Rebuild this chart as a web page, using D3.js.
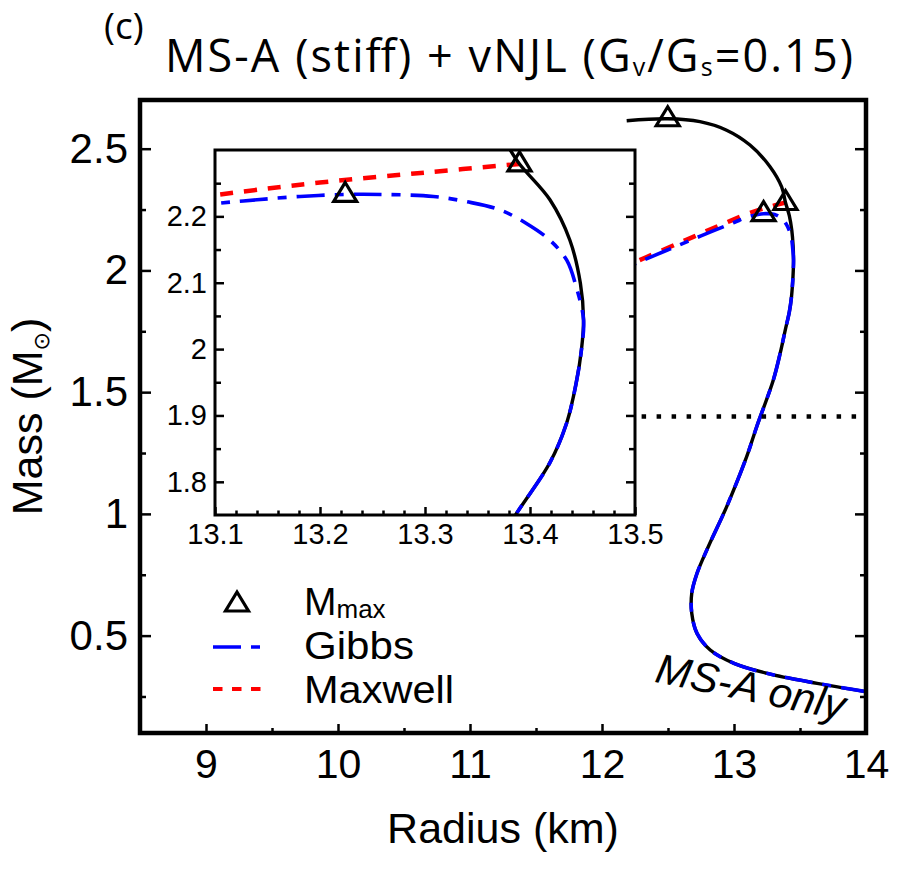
<!DOCTYPE html>
<html><head><meta charset="utf-8">
<script src="https://cdn.jsdelivr.net/npm/d3@7/dist/d3.min.js"></script>
<style>body{margin:0;background:#fff} svg{display:block}</style>
</head><body>
<svg id="c" width="900" height="872"></svg>
<script>
// ---- data ----
// hadronic-only (MS-A) mass-radius sequence, low to high central density
const hadR = [14.02, 13.63, 13.25, 13.0, 12.82, 12.72, 12.68, 12.68, 12.72, 12.805, 12.944, 13.096, 13.172, 13.298, 13.35, 13.387, 13.419, 13.435, 13.444, 13.449, 13.451, 13.448, 13.438, 13.419, 13.39, 13.361, 13.273, 13.121, 12.944, 12.742, 12.498, 12.187];
const hadM = [0.268, 0.304, 0.345, 0.386, 0.441, 0.509, 0.592, 0.674, 0.756, 0.865, 1.029, 1.235, 1.358, 1.55, 1.66, 1.752, 1.829, 1.889, 1.949, 1.999, 2.044, 2.099, 2.164, 2.225, 2.279, 2.343, 2.426, 2.515, 2.576, 2.611, 2.623, 2.615];
// Gibbs hybrid branch (from onset on hadronic curve)
const gibR = [13.451, 13.444, 13.435, 13.419, 13.397, 13.371, 13.34, 13.308, 13.26, 13.224, 13.181, 13.14, 13.1, 13.0, 12.75, 12.5, 12.25, 12.0];
const gibM = [2.044, 2.094, 2.134, 2.164, 2.189, 2.21, 2.222, 2.23, 2.233, 2.233, 2.23, 2.225, 2.219, 2.197, 2.142, 2.085, 2.027, 1.968];
// Maxwell hybrid branch
const maxR = [13.39, 13.3, 13.2, 13.1, 12.9, 12.7, 12.5, 12.25, 12.0];
const maxM = [2.279, 2.266, 2.251, 2.232, 2.187, 2.14, 2.093, 2.034, 1.975];
// maximum-mass markers: MS-A only, Maxwell, Gibbs
const mmaxR = [12.498, 13.39, 13.224];
const mmaxM = [2.623, 2.279, 2.233];
// canonical 1.4 Msun reference line (visible radius span)
const refMass = 1.4;
const refR = [12.3, 14];
// ticks
const xMajor = [9, 10, 11, 12, 13, 14];
const xMinor = [9.5, 10.5, 11.5, 12.5, 13.5];
const yMajor = [0.5, 1, 1.5, 2, 2.5];
const yMinor = [0.25, 0.75, 1.25, 1.75, 2.25];
const ixMajor = [13.1, 13.2, 13.3, 13.4, 13.5];
const ixMinor = [13.12, 13.14, 13.16, 13.18, 13.22, 13.24, 13.26, 13.28, 13.32, 13.34, 13.36, 13.38, 13.42, 13.44, 13.46, 13.48];
const iyMajor = [1.8, 1.9, 2, 2.1, 2.2];
const iyMinor = [1.85, 1.95, 2.05, 2.15, 2.25];

// ---- build series ----
const zip = (a, b) => a.map((v, i) => [v, b[i]]);
const had = zip(hadR, hadM);
const onsetIdx = hadM.indexOf(gibM[0]);
const gibbs = had.slice(0, onsetIdx).concat(zip(gibR, gibM));
const maxwell = zip(maxR, maxM);
const mmax = zip(mmaxR, mmaxM);

const FONT = "'Liberation Sans', Arial, Helvetica, sans-serif";
const svg = d3.select("#c");
const P = {l: 140, r: 866, t: 100, b: 733};
const I = {l: 215, r: 635, t: 150, b: 515};

const x = d3.scaleLinear().domain([8.5, 14]).range([P.l, P.r]);
const y = d3.scaleLinear().domain([0.1, 2.7]).range([P.b, P.t]);
const ix = d3.scaleLinear().domain([13.1, 13.5]).range([I.l, I.r]);
const iy = d3.scaleLinear().domain([1.75, 2.3]).range([I.b, I.t]);

const defs = svg.append("defs");
defs.append("clipPath").attr("id", "clipMain").append("rect")
  .attr("x", P.l).attr("y", P.t).attr("width", P.r - P.l).attr("height", P.b - P.t);
defs.append("clipPath").attr("id", "clipInset").append("rect")
  .attr("x", I.l).attr("y", I.t).attr("width", I.r - I.l).attr("height", I.b - I.t);

const tri = "M0,-12L11.5,7L-11.5,7Z";

function drawCurves(g, sx, sy, showAllMarkers) {
  const line = d3.line().x(d => sx(d[0])).y(d => sy(d[1])).curve(d3.curveCatmullRom.alpha(0.5));
  g.append("path").attr("d", line(maxwell)).attr("fill", "none")
    .attr("stroke", "#ff0000").attr("stroke-width", 4.5).attr("stroke-dasharray", "13,11");
  g.append("path").attr("d", line(had)).attr("fill", "none")
    .attr("stroke", "#000").attr("stroke-width", 3.4);
  g.append("path").attr("d", line(gibbs)).attr("fill", "none")
    .attr("stroke", "#0000ff").attr("stroke-width", 3.6).attr("stroke-dasharray", "28,10,9,10");
  g.selectAll("path.tri").data(showAllMarkers ? mmax : mmax.slice(1)).join("path")
    .attr("class", "tri").attr("d", tri)
    .attr("transform", d => `translate(${sx(d[0])},${sy(d[1])})`)
    .attr("fill", "none").attr("stroke", "#000").attr("stroke-width", 3.2);
}

// ---- main panel curves ----
const gMain = svg.append("g").attr("clip-path", "url(#clipMain)");
drawCurves(gMain, x, y, true);
gMain.append("line")
  .attr("x1", x(refR[0])).attr("x2", x(refR[1])).attr("y1", y(refMass)).attr("y2", y(refMass))
  .attr("stroke", "#000").attr("stroke-width", 4.5).attr("stroke-dasharray", "4.5,10.5");

// ---- axes helper ----
function ticks(g, axisFn, scale, vals, len, tx, ty) {
  const a = axisFn(scale).tickValues(vals).tickSizeInner(-len).tickSizeOuter(0).tickFormat("");
  const gg = g.append("g").attr("transform", `translate(${tx},${ty})`).call(a);
  gg.select(".domain").remove();
  gg.selectAll(".tick line").attr("stroke", "#000").attr("stroke-width", 2.5);
  return gg;
}
function labels(g, axisFn, scale, vals, pad, tx, ty, size) {
  const a = axisFn(scale).tickValues(vals).tickSize(0).tickPadding(pad).tickFormat(d => String(d));
  const gg = g.append("g").attr("transform", `translate(${tx},${ty})`).call(a);
  gg.select(".domain").remove();
  gg.selectAll(".tick line").remove();
  gg.selectAll("text").attr("font-family", FONT).attr("font-size", size).attr("fill", "#000");
  return gg;
}

const axG = svg.append("g");
ticks(axG, d3.axisBottom, x, xMajor, 9, 0, P.b);
ticks(axG, d3.axisBottom, x, xMinor, 5, 0, P.b);
ticks(axG, d3.axisLeft, y, yMajor, 11, P.l, 0);
ticks(axG, d3.axisLeft, y, yMinor, 6, P.l, 0);
ticks(axG, d3.axisRight, y, yMajor, 11, P.r, 0);
ticks(axG, d3.axisRight, y, yMinor, 6, P.r, 0);
labels(axG, d3.axisBottom, x, xMajor, 16, 0, P.b, 41);
labels(axG, d3.axisLeft, y, yMajor, 12, P.l, 0, 42);
svg.append("rect").attr("x", P.l).attr("y", P.t).attr("width", P.r - P.l).attr("height", P.b - P.t)
  .attr("fill", "none").attr("stroke", "#000").attr("stroke-width", 4.5);

// ---- inset ----
svg.append("rect").attr("x", I.l).attr("y", I.t).attr("width", I.r - I.l).attr("height", I.b - I.t)
  .attr("fill", "#fff");
const gIn = svg.append("g").attr("clip-path", "url(#clipInset)");
drawCurves(gIn, ix, iy, false);
const inAx = svg.append("g");
ticks(inAx, d3.axisBottom, ix, ixMajor, 8, 0, I.b);
ticks(inAx, d3.axisBottom, ix, ixMinor, 4.5, 0, I.b);
ticks(inAx, d3.axisLeft, iy, iyMajor, 9, I.l, 0);
ticks(inAx, d3.axisLeft, iy, iyMinor, 6, I.l, 0);
ticks(inAx, d3.axisRight, iy, iyMajor, 9, I.r, 0);
ticks(inAx, d3.axisRight, iy, iyMinor, 6, I.r, 0);
labels(inAx, d3.axisBottom, ix, ixMajor, 8, 0, I.b, 29);
labels(inAx, d3.axisLeft, iy, iyMajor, 8, I.l, 0, 29);
svg.append("rect").attr("x", I.l).attr("y", I.t).attr("width", I.r - I.l).attr("height", I.b - I.t)
  .attr("fill", "none").attr("stroke", "#000").attr("stroke-width", 3);

// ---- legend ----
const lg = svg.append("g").attr("font-family", FONT).attr("font-size", 39);
lg.append("path").attr("d", tri).attr("transform", "translate(237,604)")
  .attr("fill", "none").attr("stroke", "#000").attr("stroke-width", 3.2);
lg.append("line").attr("x1", 213).attr("x2", 261).attr("y1", 647).attr("y2", 647)
  .attr("stroke", "#0000ff").attr("stroke-width", 3.6).attr("stroke-dasharray", "28,10,9,10");
lg.append("line").attr("x1", 213).attr("x2", 261).attr("y1", 689).attr("y2", 689)
  .attr("stroke", "#ff0000").attr("stroke-width", 4).attr("stroke-dasharray", "9.5,9.5");
const t1 = lg.append("text").attr("x", 304).attr("y", 615);
t1.append("tspan").text("M");
t1.append("tspan").attr("font-size", 26).attr("dy", 3).text("max");
lg.append("text").attr("x", 304).attr("y", 659).attr("textLength", 110).attr("lengthAdjust", "spacingAndGlyphs").text("Gibbs");
lg.append("text").attr("x", 304).attr("y", 703).attr("textLength", 150).attr("lengthAdjust", "spacingAndGlyphs").text("Maxwell");

// ---- texts ----
svg.append("text").attr("transform", "translate(748,701) rotate(11.5)")
  .attr("text-anchor", "middle").attr("font-family", FONT).attr("font-style", "italic")
  .attr("font-size", 42).text("MS-A only");

svg.append("text").attr("x", (P.l + P.r) / 2).attr("y", 843).attr("text-anchor", "middle")
  .attr("font-family", FONT).attr("font-size", 43).text("Radius (km)");

const yl = svg.append("text").attr("transform", `translate(42,${(P.t + P.b) / 2}) rotate(-90)`)
  .attr("text-anchor", "middle").attr("font-family", FONT).attr("font-size", 43);
yl.append("tspan").text("Mass (M");
yl.append("tspan").attr("font-size", 22).attr("dy", 7).attr("font-family", "'DejaVu Sans', sans-serif").text("\u2299");
yl.append("tspan").attr("dy", -7).text(")");

const TF = "'Open Sans', 'Noto Sans', sans-serif";
svg.append("text").attr("x", 104).attr("y", 39).attr("font-family", TF).attr("font-size", 37).text("(c)");
const tt = svg.append("text").attr("x", 165).attr("y", 72).attr("font-family", TF).attr("font-size", 45)
  .attr("textLength", 688).attr("lengthAdjust", "spacing");
tt.append("tspan").text("MS-A (stiff) + vNJL (G");
tt.append("tspan").attr("font-size", 25).attr("dy", 4).text("v");
tt.append("tspan").attr("dy", -4).text("/G");
tt.append("tspan").attr("font-size", 25).attr("dy", 4).text("s");
tt.append("tspan").attr("dy", -4).text("=0.15)");
</script>
</body></html>
